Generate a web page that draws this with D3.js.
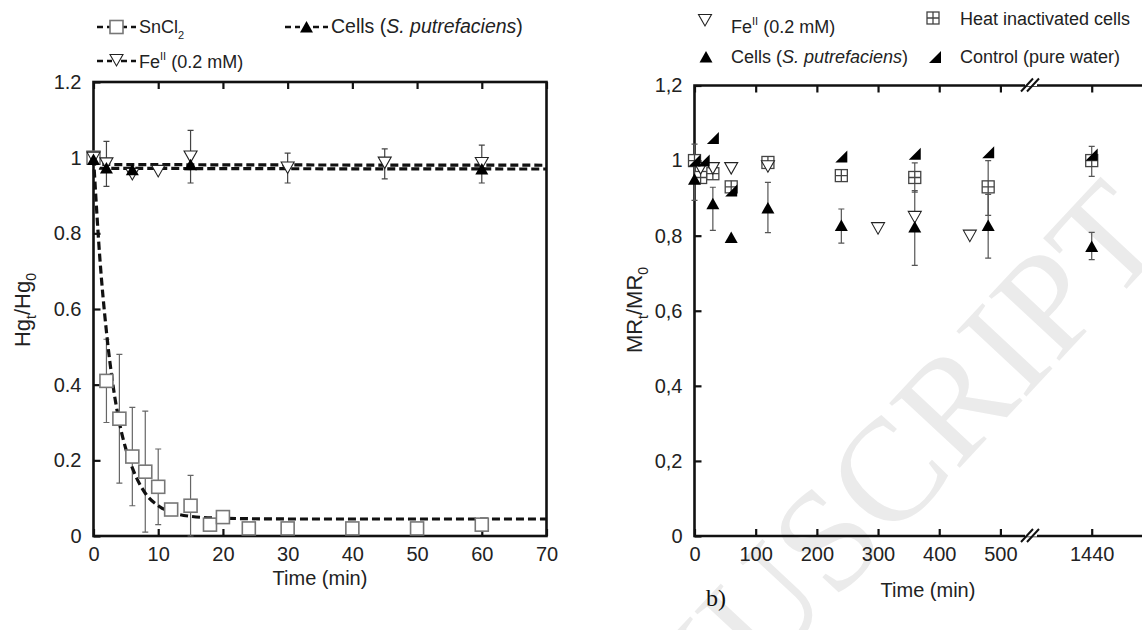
<!DOCTYPE html>
<html>
<head>
<meta charset="utf-8">
<script src="https://d3js.org/d3.v7.min.js"></script>
<style>
  body {margin: 0; background: #fff;}
  svg {display: block; font-family: "Liberation Sans", Arial, sans-serif;}
</style>
</head>
<body>
<div id="chart"></div>
<script>
// ---- left panel: Hg_t/Hg_0 vs time ----
var snTime = [0, 2, 4, 6, 8, 10, 12, 15, 18, 20, 24, 30, 40, 50, 60];
var snVal  = [1.0, 0.41, 0.31, 0.21, 0.17, 0.13, 0.07, 0.08, 0.03, 0.05, 0.02, 0.02, 0.02, 0.02, 0.03];
var snLo   = [null, 0.30, 0.14, 0.08, 0.01, 0.03, null, 0.0, null, null, null, null, null, null, null];
var snHi   = [null, 0.52, 0.48, 0.34, 0.33, 0.23, null, 0.16, null, null, null, null, null, null, null];

var feTime = [0, 2, 6, 10, 15, 30, 45, 60];
var feVal  = [1.0, 0.985, 0.957, 0.965, 1.003, 0.974, 0.987, 0.986];
var feLo   = [null, null, null, null, 0.933, 0.933, 0.944, 0.933];
var feHi   = [null, null, null, null, 1.072, 1.012, 1.023, 1.033];

var cellTime = [0, 2, 6, 15, 60];
var cellVal  = [0.995, 0.973, 0.968, 0.981, 0.970];
var cellLo   = [null, 0.924, null, null, null];
var cellHi   = [null, 1.043, null, null, null];

// fitted curves
var snFit   = [[0, 1.0], [1, 0.73], [2, 0.54], [3, 0.40], [4, 0.30], [5, 0.23], [6, 0.18], [8, 0.113], [10, 0.08], [12, 0.063], [15, 0.052], [20, 0.047], [30, 0.045], [70, 0.045]];
var feFit   = [[0, 1.0], [1, 0.982], [70, 0.98]];
var cellFit = [[0, 1.0], [1, 0.972], [70, 0.97]];

var xTicksL = [0, 10, 20, 30, 40, 50, 60, 70];
var yTicks = [0, 0.2, 0.4, 0.6, 0.8, 1.0, 1.2];

// ---- right panel: MR_t/MR_0 vs time ----
var feRTime = [10, 30, 60, 120, 300, 360, 450];
var feRVal  = [0.98, 0.98, 0.98, 0.985, 0.82, 0.85, 0.80];

var cellRTime = [0, 30, 60, 120, 240, 360, 480, 1440];
var cellRVal  = [0.95, 0.885, 0.795, 0.874, 0.827, 0.823, 0.827, 0.771];
var cellRLo   = [null, 0.814, null, 0.808, 0.78, 0.721, 0.74, 0.736];
var cellRHi   = [null, 0.929, null, 0.942, 0.871, 0.92, 0.91, 0.809];

var heatTime = [0, 10, 30, 60, 120, 240, 360, 480, 1440];
var heatVal  = [1.0, 0.955, 0.965, 0.93, 0.995, 0.96, 0.955, 0.93, 1.0];
var heatLo   = [0.894, null, null, null, null, null, 0.916, 0.854, 0.958];
var heatHi   = [1.044, null, null, 0.995, null, null, 0.994, 1.0, 1.038];

var ctrlTime = [0, 15, 30, 60, 240, 360, 480, 1440];
var ctrlVal  = [1.0, 1.0, 1.06, 0.92, 1.011, 1.018, 1.022, 1.016];

var xTicksR = [0, 100, 200, 300, 400, 500, 1440];

var W = 1142, H = 630;
var svg = d3.select("#chart").append("svg").attr("width", W).attr("height", H);

// faint watermark
svg.append("text")
    .attr("transform", "translate(1172,240) rotate(-47)")
    .attr("text-anchor", "end")
    .attr("font-family", "'Liberation Serif', serif")
    .attr("font-size", 146)
    .attr("fill", "#ebebeb")
    .text("ACCEPTED MANUSCRIPT");

var xL = d3.scaleLinear().domain([0, 70]).range([93.5, 546.5]);
var yL = d3.scaleLinear().domain([0, 1.2]).range([536, 82]);
var xR = d3.scaleLinear().domain([0, 550, 1341, 1522]).range([694.5, 1031, 1031, 1142]);
var yR = d3.scaleLinear().domain([0, 1.2]).range([536, 85.5]);

// ---- marker helpers ----
function sq(g, x, y, stroke) {
    g.append("rect").attr("x", x - 6.5).attr("y", y - 6.5).attr("width", 13).attr("height", 13)
        .attr("fill", "#fff").attr("stroke", stroke).attr("stroke-width", 1.6);
}
function sqCross(g, x, y) {
    g.append("rect").attr("x", x - 6).attr("y", y - 6).attr("width", 12).attr("height", 12)
        .attr("fill", "#fff").attr("stroke", "#444").attr("stroke-width", 1.3);
    g.append("path").attr("d", "M" + (x - 6) + "," + y + "H" + (x + 6) + "M" + x + "," + (y - 6) + "V" + (y + 6))
        .attr("stroke", "#444").attr("stroke-width", 1.3);
}
function triDown(g, x, y) {
    g.append("path").attr("d", "M" + (x - 6.5) + "," + (y - 5.5) + "H" + (x + 6.5) + "L" + x + "," + (y + 6) + "Z")
        .attr("fill", "#fff").attr("stroke", "#222").attr("stroke-width", 1.1);
}
function triUp(g, x, y) {
    g.append("path").attr("d", "M" + (x - 6.5) + "," + (y + 5.5) + "H" + (x + 6.5) + "L" + x + "," + (y - 6) + "Z")
        .attr("fill", "#000");
}
function halfTri(g, x, y) {
    g.append("path").attr("d", "M" + (x - 6) + "," + (y + 6) + "H" + (x + 6) + "V" + (y - 6) + "Z")
        .attr("fill", "#000");
}
function errBar(g, x, lo, hi, color) {
    g.append("path").attr("d", "M" + x + "," + lo + "V" + hi + "M" + (x - 3) + "," + lo + "H" + (x + 3) + "M" + (x - 3) + "," + hi + "H" + (x + 3))
        .attr("stroke", color).attr("stroke-width", 1.2).attr("fill", "none");
}

var fmtDot = function(d) { return d === 0 ? "0" : d === 1 ? "1" : d3.format(".1f")(d); };
var fmtComma = function(d) { return fmtDot(d).replace(".", ","); };

// ================= LEFT PANEL =================
var gl = svg.append("g");

gl.append("g").attr("transform", "translate(0,536)")
    .call(d3.axisBottom(xL).tickValues(xTicksL).tickSize(-7).tickPadding(11))
    .call(g => g.select(".domain").remove());
gl.append("g").attr("transform", "translate(0,82)")
    .call(d3.axisTop(xL).tickValues(xTicksL).tickSize(-7).tickFormat(""))
    .call(g => g.select(".domain").remove());
gl.append("g").attr("transform", "translate(93.5,0)")
    .call(d3.axisLeft(yL).tickValues(yTicks).tickSize(-7).tickPadding(12).tickFormat(fmtDot))
    .call(g => g.select(".domain").remove());
gl.selectAll(".tick line").attr("stroke", "#111").attr("stroke-width", 2.2);
gl.selectAll(".tick text").attr("font-size", 20).attr("fill", "#222")
    .attr("font-family", "'Liberation Sans', Arial, sans-serif");

gl.append("rect").attr("x", 93.5).attr("y", 82).attr("width", 453).attr("height", 454)
    .attr("fill", "none").attr("stroke", "#111").attr("stroke-width", 2.6);

// error bars
snTime.forEach(function(t, i) {
    if (snLo[i] !== null) errBar(gl, xL(t), yL(snLo[i]), yL(snHi[i]), "#666");
});
feTime.forEach(function(t, i) {
    if (feLo[i] !== null) errBar(gl, xL(t), yL(feLo[i]), yL(feHi[i]), "#444");
});
cellTime.forEach(function(t, i) {
    if (cellLo[i] !== null) errBar(gl, xL(t), yL(cellLo[i]), yL(cellHi[i]), "#444");
});

// fits
var lineL = d3.line().x(d => xL(d[0])).y(d => yL(d[1])).curve(d3.curveMonotoneX);
[snFit, feFit, cellFit].forEach(function(f) {
    gl.append("path").datum(f).attr("d", lineL).attr("fill", "none")
        .attr("stroke", "#111").attr("stroke-width", 3.2).attr("stroke-dasharray", "8,4");
});

snTime.forEach(function(t, i) { sq(gl, xL(t), yL(snVal[i]), "#777"); });
feTime.forEach(function(t, i) { triDown(gl, xL(t), yL(feVal[i])); });
cellTime.forEach(function(t, i) { triUp(gl, xL(t), yL(cellVal[i])); });

// axis titles
var ttl = gl.append("text").attr("transform", "translate(30,310) rotate(-90)")
    .attr("text-anchor", "middle").attr("font-size", 22).attr("fill", "#222");
ttl.append("tspan").text("Hg");
ttl.append("tspan").attr("font-size", 14).attr("dy", 6).text("t");
ttl.append("tspan").attr("dy", -6).text("/Hg");
ttl.append("tspan").attr("font-size", 14).attr("dy", 6).text("0");

gl.append("text").attr("x", 320).attr("y", 585).attr("text-anchor", "middle")
    .attr("font-size", 20).attr("fill", "#222").text("Time (min)");

// legend (left)
function legLine(g, x1, x2, y) {
    g.append("path").attr("d", "M" + x1 + "," + y + "H" + x2).attr("stroke", "#111")
        .attr("stroke-width", 2.6).attr("stroke-dasharray", "6,4");
}
legLine(gl, 97, 112, 27); legLine(gl, 121, 136, 27);
sq(gl, 116.5, 27, "#777");
var t1 = gl.append("text").attr("x", 139).attr("y", 33).attr("font-size", 18).attr("fill", "#222");
t1.append("tspan").text("SnCl");
t1.append("tspan").attr("font-size", 11).attr("dy", 6).text("2");

legLine(gl, 285, 300, 27); legLine(gl, 313, 328, 27);
triUp(gl, 306.5, 27);
var t2 = gl.append("text").attr("x", 331).attr("y", 33).attr("font-size", 19.5).attr("fill", "#222");
t2.append("tspan").text("Cells (");
t2.append("tspan").attr("font-style", "italic").text("S. putrefaciens");
t2.append("tspan").text(")");

legLine(gl, 97, 112, 61); legLine(gl, 121, 136, 61);
triDown(gl, 116.5, 60);
var t3 = gl.append("text").attr("x", 139).attr("y", 68).attr("font-size", 18).attr("fill", "#222");
t3.append("tspan").text("Fe");
t3.append("tspan").attr("font-size", 11).attr("dy", -8).text("II");
t3.append("tspan").attr("dy", 8).text(" (0.2 mM)");

// ================= RIGHT PANEL =================
var gr = svg.append("g");

gr.append("g").attr("transform", "translate(0,536)")
    .call(d3.axisBottom(xR).tickValues(xTicksR).tickSize(-7).tickPadding(11).tickFormat(d3.format("d")))
    .call(g => g.select(".domain").remove());
gr.append("g").attr("transform", "translate(0,85.5)")
    .call(d3.axisTop(xR).tickValues(xTicksR).tickSize(-7).tickFormat(""))
    .call(g => g.select(".domain").remove());
gr.append("g").attr("transform", "translate(694.5,0)")
    .call(d3.axisLeft(yR).tickValues(yTicks).tickSize(-7).tickPadding(12).tickFormat(fmtComma))
    .call(g => g.select(".domain").remove());
gr.selectAll(".tick line").attr("stroke", "#111").attr("stroke-width", 2.2);
gr.selectAll(".tick text").attr("font-size", 20).attr("fill", "#222")
    .attr("font-family", "'Liberation Sans', Arial, sans-serif");

gr.append("path").attr("d", "M" + 1142 + ",85.5H694.5V536H1142")
    .attr("fill", "none").attr("stroke", "#111").attr("stroke-width", 2.6);

// axis break marks
[85.5, 536].forEach(function(y) {
    var bx = xR(550);
    gr.append("path").attr("d", "M" + (bx - 6) + "," + (y - 1.5) + "H" + (bx + 6))
        .attr("stroke", "#fff").attr("stroke-width", 4);
    gr.append("path").attr("d", "M" + (bx - 10) + "," + (y + 6) + "L" + (bx + 2) + "," + (y - 7) +
        "M" + (bx - 4) + "," + (y + 6) + "L" + (bx + 8) + "," + (y - 7))
        .attr("stroke", "#111").attr("stroke-width", 2);
});

heatTime.forEach(function(t, i) {
    if (heatLo[i] !== null) errBar(gr, xR(t), yR(heatLo[i]), yR(heatHi[i]), "#555");
});
cellRTime.forEach(function(t, i) {
    if (cellRLo[i] !== null) errBar(gr, xR(t), yR(cellRLo[i]), yR(cellRHi[i]), "#555");
});

heatTime.forEach(function(t, i) { sqCross(gr, xR(t), yR(heatVal[i])); });
feRTime.forEach(function(t, i) { triDown(gr, xR(t), yR(feRVal[i])); });
cellRTime.forEach(function(t, i) { triUp(gr, xR(t), yR(cellRVal[i])); });
ctrlTime.forEach(function(t, i) { halfTri(gr, xR(t), yR(ctrlVal[i])); });

var ttr = gr.append("text").attr("transform", "translate(642,310) rotate(-90)")
    .attr("text-anchor", "middle").attr("font-size", 22).attr("fill", "#222");
ttr.append("tspan").text("MR");
ttr.append("tspan").attr("font-size", 14).attr("dy", 6).text("t");
ttr.append("tspan").attr("dy", -6).text("/MR");
ttr.append("tspan").attr("font-size", 14).attr("dy", 6).text("0");

gr.append("text").attr("x", 928).attr("y", 597).attr("text-anchor", "middle")
    .attr("font-size", 20).attr("fill", "#222").text("Time (min)");

// legend (right)
triDown(gr, 705, 20);
var r1 = gr.append("text").attr("x", 731).attr("y", 33).attr("font-size", 18).attr("fill", "#222");
r1.append("tspan").text("Fe");
r1.append("tspan").attr("font-size", 11).attr("dy", -8).text("II");
r1.append("tspan").attr("dy", 8).text(" (0.2 mM)");

triUp(gr, 706, 57);
var r2 = gr.append("text").attr("x", 731).attr("y", 63).attr("font-size", 18).attr("fill", "#222");
r2.append("tspan").text("Cells (");
r2.append("tspan").attr("font-style", "italic").text("S. putrefaciens");
r2.append("tspan").text(")");

sqCross(gr, 933, 18);
gr.append("text").attr("x", 960).attr("y", 25).attr("font-size", 18).attr("fill", "#222")
    .text("Heat inactivated cells");
halfTri(gr, 935, 57);
gr.append("text").attr("x", 960).attr("y", 63).attr("font-size", 18).attr("fill", "#222")
    .text("Control (pure water)");

svg.append("text").attr("x", 706).attr("y", 606).attr("font-family", "'Liberation Serif', serif")
    .attr("font-size", 24).attr("fill", "#111").text("b)");
</script>
</body>
</html>
